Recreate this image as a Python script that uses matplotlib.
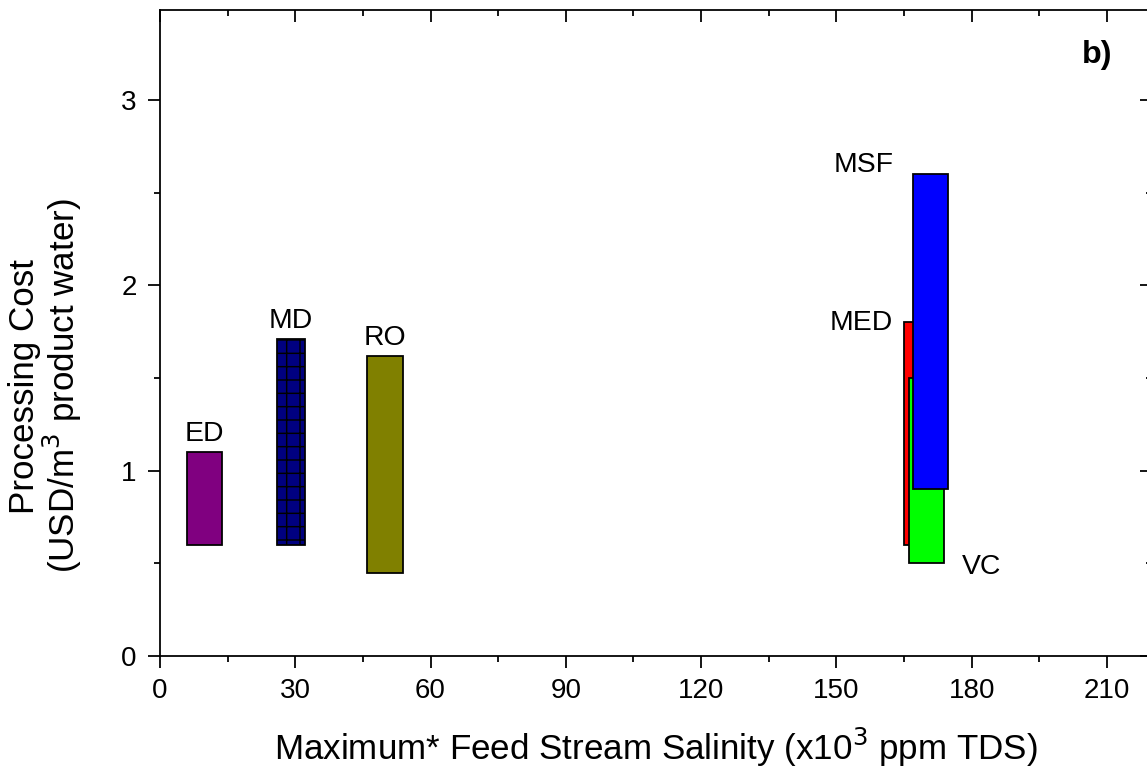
import matplotlib
matplotlib.use('Agg')
import matplotlib.pyplot as plt
from matplotlib.ticker import MultipleLocator

plt.rcParams['font.family'] = ['Liberation Sans', 'DejaVu Sans']
plt.rcParams['hatch.linewidth'] = 1.3

# processos e faixas (salinidade x10^3 ppm, custo USD/m3)
processos = ['ED', 'MD', 'RO', 'MED', 'VC', 'MSF']
sal_min = [6, 26, 46, 165, 166, 167]
sal_max = [13.8, 32.2, 53.8, 173, 173.8, 174.8]
custo_min = [0.6, 0.6, 0.45, 0.6, 0.5, 0.9]
custo_max = [1.1, 1.71, 1.62, 1.8, 1.5, 2.6]
cores = ['#800080', '#000080', '#808000', '#ff0000', '#00ff00', '#0000ff']
hachuras = ['', '+', '', '', '', '']

fig = plt.figure(figsize=(1147 / 80, 771 / 80), dpi=80)
ax = fig.add_axes([160 / 1147, 115 / 771, 992 / 1147, 646 / 771])

for i in range(len(processos)):
    ax.bar(sal_min[i], custo_max[i] - custo_min[i], width=sal_max[i] - sal_min[i],
           bottom=custo_min[i], align='edge', color=cores[i], edgecolor='black',
           linewidth=1.6, hatch=hachuras[i], zorder=2 + i)

# rotulos das barras
fs_rot = 25.5
for i, p in enumerate(processos):
    xc = (sal_min[i] + sal_max[i]) / 2
    if p in ['ED', 'MD', 'RO']:
        ax.annotate(p, (xc, custo_max[i]), xytext=(0, 11), textcoords='offset pixels',
                    ha='center', va='baseline', fontsize=fs_rot)
    elif p == 'MSF':
        ax.annotate(p, (sal_min[i], custo_max[i]), xytext=(-19, 2), textcoords='offset pixels',
                    ha='right', va='baseline', fontsize=fs_rot)
    elif p == 'MED':
        ax.annotate(p, (sal_min[i], custo_max[i]), xytext=(-11, -8), textcoords='offset pixels',
                    ha='right', va='baseline', fontsize=fs_rot)
    else:
        ax.annotate(p, (sal_max[i], custo_min[i]), xytext=(18, -4), textcoords='offset pixels',
                    ha='left', va='center', fontsize=fs_rot)

ax.set_xlim(0, 220)
ax.set_ylim(0, 3.486)
ax.xaxis.set_major_locator(MultipleLocator(30))
ax.xaxis.set_minor_locator(MultipleLocator(15))
ax.yaxis.set_major_locator(MultipleLocator(1))
ax.yaxis.set_minor_locator(MultipleLocator(0.5))
ax.tick_params(which='both', direction='out', width=1.6, labelsize=25)
ax.tick_params(which='major', length=11)
ax.tick_params(which='minor', length=5.5)
ax.tick_params(axis='x', pad=9)
ax.tick_params(axis='y', pad=10)
for s in ax.spines.values():
    s.set_linewidth(1.6)
ax.spines['top'].set_visible(False)
ax.spines['right'].set_visible(False)

topo = ax.secondary_xaxis('top')
topo.xaxis.set_major_locator(MultipleLocator(30))
topo.xaxis.set_minor_locator(MultipleLocator(15))
topo.tick_params(which='both', direction='in', width=1.6, labeltop=False)
topo.tick_params(which='major', length=11)
topo.tick_params(which='minor', length=5.5)
topo.spines['top'].set_linewidth(1.6)

direita = ax.secondary_yaxis('right')
direita.yaxis.set_major_locator(MultipleLocator(1))
direita.yaxis.set_minor_locator(MultipleLocator(0.5))
direita.tick_params(which='both', direction='in', width=1.6, labelright=False)
direita.tick_params(which='major', length=11)
direita.tick_params(which='minor', length=5.5)
direita.spines['right'].set_linewidth(1.6)

fig.text(656 / 1147, 1 - 760 / 771, 'Maximum* Feed Stream Salinity (x10$^3$ ppm TDS)',
         ha='center', va='baseline', fontsize=31.5)
fig.text(46 / 1147, 1 - 386 / 771, 'Processing Cost\n(USD/m$^3$ product water)',
         ha='center', va='center', rotation=90, fontsize=31.5, linespacing=1.0)
fig.text(1097 / 1147, 1 - 55 / 771, 'b)', ha='center', va='center', fontsize=29,
         fontweight='bold')

plt.savefig('out.png', dpi=80)
